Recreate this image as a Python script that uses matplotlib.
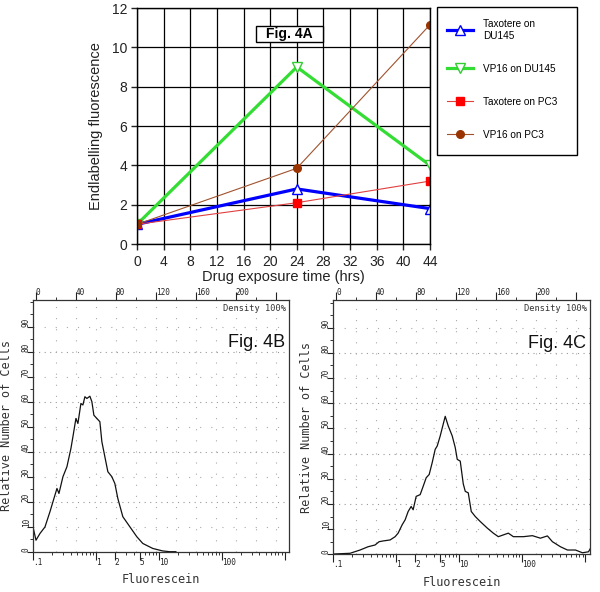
import numpy as np
import matplotlib
matplotlib.use('Agg')
import matplotlib.pyplot as plt
from matplotlib.patches import Rectangle
from matplotlib.ticker import FixedLocator, MultipleLocator

# Fig. 4A - endlabelling fluorescence vs drug exposure time
hours = [0, 24, 44]
taxotere_du145 = [1.0, 2.8, 1.8]
vp16_du145 = [1.0, 9.0, 4.0]
taxotere_pc3 = [1.0, 2.1, 3.2]
vp16_pc3 = [1.0, 3.85, 11.15]
series_labels = ['Taxotere on\nDU145', 'VP16 on DU145', 'Taxotere on PC3', 'VP16 on PC3']

# Fig. 4B / 4C - flow histograms (channel 0-255, relative number of cells)
b_channel = [-3, 0, 4, 9, 14, 17, 21, 23, 27, 31, 35, 37, 40, 42, 45, 47, 49, 51, 54, 56,
             58, 61, 64, 66, 69, 72, 76, 79, 82, 87, 94, 101, 107, 117, 127, 134, 140]
b_count = [9.9, 4.6, 7.3, 9.9, 16, 20, 25.3, 23.3, 30, 34, 41.3, 46, 53.3, 51.3, 59.3, 58.7, 62, 61.3, 62.2, 60,
           54.6, 53.3, 52, 44, 38, 32, 30, 27.3, 21.3, 14, 10, 6, 3.3, 1.3, 0.3, 0, 0]
c_channel = [-3, 14, 24, 32, 39, 43, 47, 54, 59, 62, 66, 69, 72, 75, 77, 80, 84, 87, 90, 93,
             96, 99, 101, 104, 107, 109, 112, 116, 119, 121, 124, 127, 129, 132, 135, 139, 144, 151, 157, 162,
             167, 172, 177, 187, 196, 204, 211, 216, 224, 231, 239, 246, 252, 254]
c_count = [0.1, 0.4, 1.7, 3, 3.7, 5, 5.3, 5.7, 7, 8.4, 11.7, 13.7, 17, 19, 17.7, 23, 23.7, 27, 30.4, 31.7,
           36.4, 41.7, 43, 47, 51.7, 54.8, 51, 47, 42.4, 37.7, 37, 28, 25, 24.4, 17, 15, 13, 10.4, 8.4, 7,
           7.7, 8.4, 7, 7, 7.4, 6.4, 7.3, 5, 3, 1.7, 1.7, 0.6, 1, 2.4]

channel_ticks = [0, 40, 80, 120, 160, 200, 240]
channel_labels = ['0', '40', '80', '120', '160', '200', '']
fl_ticks = [0.1, 1, 2, 5, 10, 100, 1000]
fl_labels = ['.1', '1', '2', '5', '10', '100', '']
count_ticks = [0, 10, 20, 30, 40, 50, 60, 70, 80, 90]

W, H = 600, 592
fig = plt.figure(figsize=(W / 100, H / 100), dpi=100)


def fl_to_channel(f):
    return -3 + 63 * np.log10(np.asarray(f, dtype=float) / 0.1)


# ---------- Fig. 4A ----------
sans = 'Liberation Sans'
ax = fig.add_axes([137 / W, 1 - 244 / H, 293 / W, 236 / H])
ax.set_xlim(0, 44)
ax.set_ylim(0, 12)
ax.set_xticks(range(0, 45, 4))
ax.set_yticks(range(0, 13, 2))
ax.grid(True, color='black', lw=0.9)
ax.set_axisbelow(True)
for s in ax.spines.values():
    s.set_color('black')
    s.set_linewidth(1)
ax.tick_params(direction='out', length=4, width=1, colors='#222', labelsize=10)
ax.tick_params(axis='x', pad=4)
ax.tick_params(axis='y', pad=3)
for lab in ax.get_xticklabels() + ax.get_yticklabels():
    lab.set_fontfamily(sans)

l1, = ax.plot(hours, taxotere_du145, color='#0000ff', lw=2.3, marker='^', ms=6.5,
              mfc='white', mec='#0000ff', mew=1)
l2, = ax.plot(hours, vp16_du145, color='#33dd33', lw=2.3, marker='v', ms=7.5,
              mfc='white', mec='#33cc33', mew=1)
l3, = ax.plot(hours, taxotere_pc3, color='#e04040', lw=0.8, marker='s', ms=5.5,
              mfc='#ff0000', mec='#ff0000')
l4, = ax.plot(hours, vp16_pc3, color='#a0522d', lw=0.8, marker='o', ms=5.5,
              mfc='#993300', mec='#993300')

ax.set_xlabel('Drug exposure time (hrs)', fontsize=10.5, family=sans, labelpad=1, color='#222')
ax.set_ylabel('Endlabelling fluorescence', fontsize=10.5, family=sans, labelpad=6, color='#222')

# "Fig. 4A" boxed title
fig.patches.append(Rectangle((256 / W, 1 - 42 / H), 67 / W, 16 / H, transform=fig.transFigure,
                             fc='white', ec='black', lw=1))
fig.text(289.5 / W, 1 - 34 / H, 'Fig. 4A', ha='center', va='center', fontsize=10,
         fontweight='bold', family=sans, zorder=3)

fig.patches.append(Rectangle((437 / W, 1 - 155 / H), 140 / W, 148 / H, transform=fig.transFigure,
                             fill=False, ec='black', lw=1))
fig.legend([l1, l2, l3, l4], series_labels, loc='upper left',
           bbox_to_anchor=(446.7 / W, 1 - 19 / H), frameon=False,
           prop={'family': sans, 'size': 7.2}, handlelength=2.6, handletextpad=1.0,
           labelspacing=2.3, borderpad=0, borderaxespad=0)


# ---------- Fig. 4B / 4C ----------
mono = 'DejaVu Sans Mono'


def histogram_panel(rect, channel, count, ymax, tag):
    hx = fig.add_axes(rect)
    hx.set_xlim(-3, 253.5)
    hx.set_ylim(0, ymax)
    for s in hx.spines.values():
        s.set_color('#333')
        s.set_linewidth(0.9)

    # dotted grid
    hx.hlines(range(20, 100, 20), -3, 253.5, colors='#999', lw=0.8, linestyles=(0, (1, 4)))
    hx.hlines(range(10, 100, 20), -3, 253.5, colors='#aaa', lw=0.8, linestyles=(0, (1, 9)))
    hx.vlines(range(20, 253, 20), 0, ymax, colors='#aaa', lw=0.8, linestyles=(0, (1, 9)))

    hx.plot(channel, count, color='#111', lw=0.9)

    # bottom: log fluorescence scale
    hx.xaxis.set_major_locator(FixedLocator(fl_to_channel(fl_ticks)))
    hx.set_xticklabels(fl_labels, ha='left', va='top', family=mono, fontsize=5.6)
    minor = [m * 10.0 ** d for d in range(-1, 3) for m in range(2, 10)]
    hx.xaxis.set_minor_locator(FixedLocator(fl_to_channel(minor)))
    hx.tick_params(axis='x', which='major', direction='out', length=6, width=0.8,
                   pad=-1.8, colors='#222')
    hx.tick_params(axis='x', which='minor', direction='out', length=2.5, width=0.7, colors='#333')

    # left: count scale, rotated labels
    hx.set_yticks(count_ticks)
    hx.set_yticklabels([str(v) for v in count_ticks], rotation=90, ha='right', va='bottom',
                       family=mono, fontsize=5.6)
    hx.yaxis.set_minor_locator(MultipleLocator(5))
    hx.tick_params(axis='y', which='major', direction='out', length=4.5, width=0.8,
                   pad=-2.8, colors='#222')
    hx.tick_params(axis='y', which='minor', direction='out', length=2, width=0.7, colors='#333')

    # top: channel scale
    top = hx.secondary_xaxis('top')
    top.set_xticks(channel_ticks)
    top.set_xticklabels(channel_labels, ha='left', va='bottom', family=mono, fontsize=5.6)
    top.xaxis.set_minor_locator(FixedLocator(range(20, 253, 40)))
    top.tick_params(which='major', direction='out', length=6, width=0.8, pad=-3.6, colors='#222')
    top.tick_params(which='minor', direction='out', length=2, width=0.7, colors='#333')
    top.spines['top'].set_visible(False)

    hx.text(0.99, 0.985, 'Density 100%', transform=hx.transAxes, ha='right', va='top',
            family=mono, fontsize=6.2, color='#333')
    hx.text(0.985, 0.83, 'Fig. ' + tag, transform=hx.transAxes, ha='right', va='center',
            family=sans, fontsize=13, color='#111')
    hx.set_xlabel('Fluorescein', family=mono, fontsize=8.6, color='#333', labelpad=5)
    hx.set_ylabel('Relative Number of Cells', family=mono, fontsize=8.6, color='#333', labelpad=6)
    return hx


histogram_panel([33 / W, 1 - 551.7 / H, 256 / W, 251.7 / H], b_channel, b_count, 100.7, '4B')
histogram_panel([333 / W, 1 - 554.3 / H, 257 / W, 254.3 / H], c_channel, c_count, 101, '4C')

fig.savefig('out.png', dpi=100, facecolor='white')
